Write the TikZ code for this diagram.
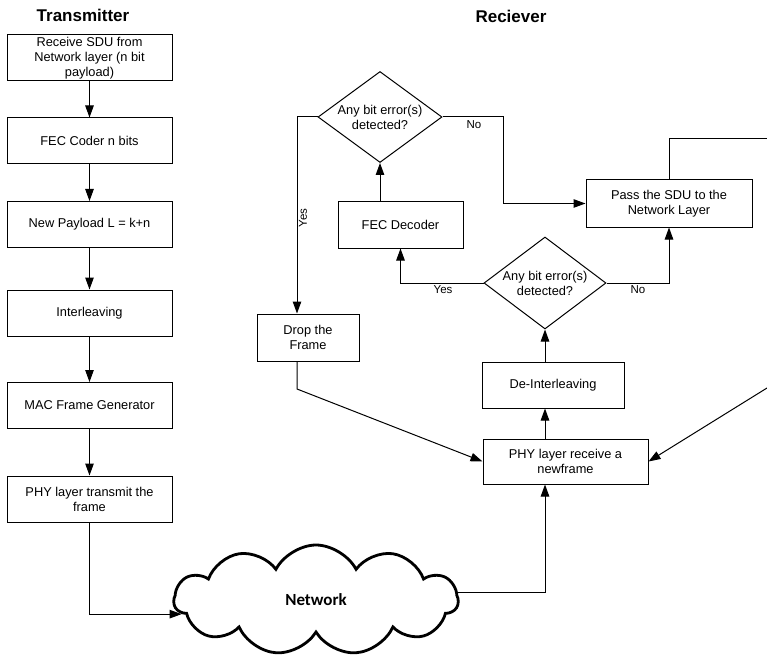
\documentclass[tikz,border=0pt]{standalone}
\usepackage{fontspec}
\setmainfont{Liberation Sans}
\newfontfamily\cloudfont{Carlito}
\usetikzlibrary{shapes.geometric,shapes.symbols,arrows.meta}

\begin{document}
\begin{tikzpicture}[x=1pt,y=-1pt,
  boxfont/.style={font=\fontsize{12.8}{15}\selectfont},
  procbox/.style={draw, line width=1pt, minimum height=46pt, align=center,
    inner sep=1pt, boxfont},
  txbox/.style={procbox, minimum width=165pt},
  decision/.style={draw, diamond, line width=1pt, aspect=1.36, inner sep=0pt,
    minimum width=124pt, minimum height=91pt, align=center, boxfont},
  title/.style={font=\fontsize{17}{20}\selectfont\bfseries},
  lbl/.style={font=\fontsize{11.5}{13}\selectfont, inner sep=1pt},
  arr/.style={-{Triangle[length=12pt,width=8.5pt]}, line width=1pt},
  wire/.style={line width=1pt},
  netcloud/.style={draw, cloud, cloud puffs=11, cloud puff arc=125, aspect=2.5,
    line width=2.8pt, minimum width=284pt, minimum height=110pt, inner sep=0pt,
    font=\cloudfont\fontsize{17}{20}\selectfont\bfseries}
]
\useasboundingbox (0,0) rectangle (767,660);

% column headings
\node[title] (ttx) at (83,15) {Transmitter};
\node[title] (trx) at (511,16) {Reciever};

% transmitter chain
\node[txbox] (t1) at (89.5,58) {Receive SDU from\\Network layer (n bit\\payload)};
\node[txbox] (t2) at (89.5,141) {FEC Coder n bits};
\node[txbox] (t3) at (89.5,224.5) {New Payload L = k+n};
\node[txbox] (t4) at (89.5,313) {Interleaving};
\node[txbox] (t5) at (89.5,405.5) {MAC Frame Generator};
\node[txbox] (t6) at (89.5,499) {PHY layer transmit the\\frame};

% receiver
\node[decision] (d1) at (380,117) {Any bit error(s)\\detected?};
\node[procbox, minimum width=125pt] (fec) at (400.5,225) {FEC Decoder};
\node[decision, minimum width=122pt, minimum height=92pt] (d2) at (545,283) {Any bit error(s)\\detected?};
\node[procbox, minimum width=166pt, minimum height=47pt] (pass) at (669,203.5) {Pass the SDU to the\\Network Layer};
\node[procbox, minimum width=102pt, minimum height=47pt] (drop) at (308,337.5) {Drop the\\Frame};
\node[procbox, minimum width=142pt] (deint) at (553,385) {De-Interleaving};
\node[procbox, minimum width=165pt, minimum height=45pt] (rphy) at (565.5,461.5) {PHY layer receive a\\newframe};

% channel
\node[netcloud] (net) at (316,600) {Network};

% bend points and off-page ends
\coordinate (nobend) at (503,117);
\coordinate (yesbend) at (297,117);
\coordinate (dropbend) at (297,389);
\coordinate (loopout) at (767,139);
\coordinate (loopin) at (767,388);

% transmitter arrows
\foreach \a/\b in {t1/t2,t2/t3,t3/t4,t4/t5,t5/t6}
  \draw[arr] (\a) -- (\b);
\draw[arr] (t6.south) |- (net.186);
\draw[arr] (net.3) -| (rphy.south -| d2.south);

% receiver arrows
\draw[arr] (rphy.north -| d2.south) -- (deint.south -| d2.south);
\draw[arr] (deint.north -| d2.south) -- (d2.south);
\draw[arr] (d2.west) -| (fec.south);
\draw[arr] (d2.east) -| (pass.south);
\draw[arr] (fec.north -| d1.south) -- (d1.south);
\draw[arr] (d1.west) -- (yesbend) -- (drop.north -| yesbend);
\draw[arr] (d1.east) -- (nobend) |- (pass.west);
\draw[wire] (pass.north) |- (loopout);
\draw[arr] (loopin) -- (rphy.east);
\draw[arr] (drop.south -| dropbend) -- (dropbend) -- (rphy.west);

% branch labels
\node[lbl, rotate=90] (yes1) at (303,218) {Yes};
\node[lbl] (no1) at (474,125) {No};
\node[lbl] (yes2) at (443,290) {Yes};
\node[lbl] (no2) at (638,290) {No};
\end{tikzpicture}
\end{document}
